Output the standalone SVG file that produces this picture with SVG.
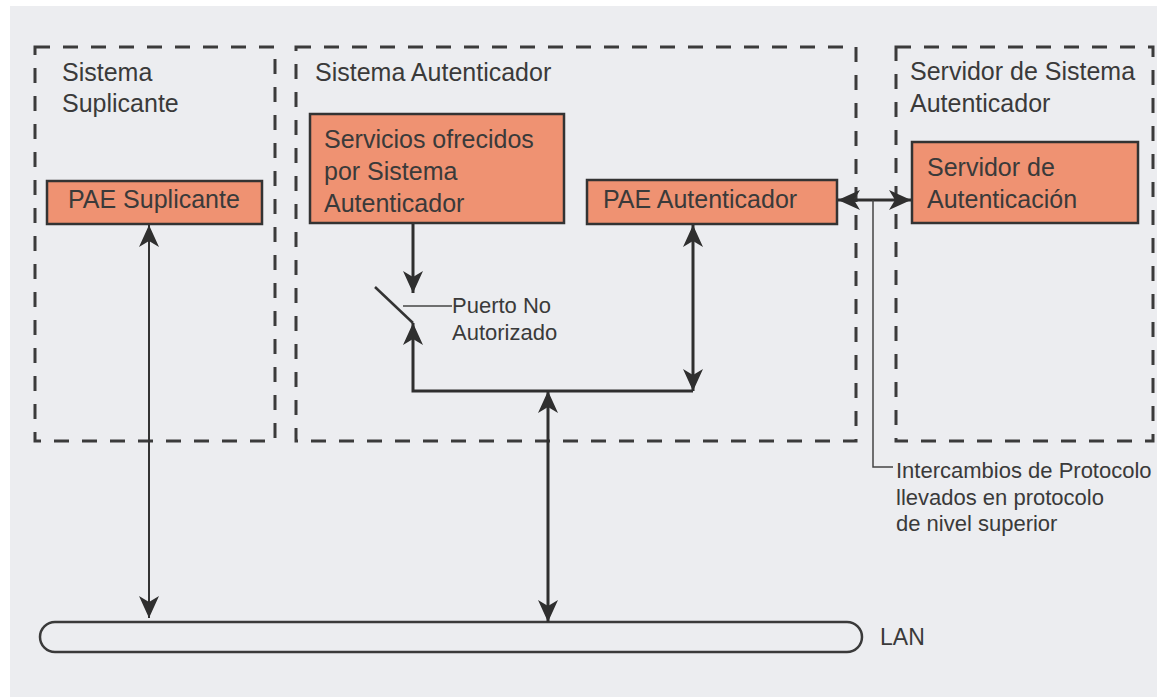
<svg xmlns="http://www.w3.org/2000/svg" width="1157" height="698" viewBox="0 0 1157 698">
<style>
.bg{fill:#ecedf0}
.sys{fill:none;stroke:#3b3b3b;stroke-width:3;stroke-dasharray:15 13}
.box{fill:#ef9272;stroke:#333;stroke-width:2.5}
.t{font-family:"Liberation Sans",Arial,sans-serif;font-size:25px;fill:#3a3a3a}
.s{font-family:"Liberation Sans",Arial,sans-serif;font-size:22px;fill:#3a3a3a}
.c{fill:none;stroke:#2f2f2f;stroke-width:3}
.cs{fill:none;stroke:#333;stroke-width:2}
.thin{fill:none;stroke:#444;stroke-width:1.5}
</style>
<defs>
<marker id="ah" viewBox="0 0 22 20" refX="22" refY="10" markerWidth="22" markerHeight="20" markerUnits="userSpaceOnUse" orient="auto-start-reverse">
<path d="M0,0 L22,10 L0,20 L6,10 z" fill="#2f2f2f"/>
</marker>
</defs>
<rect width="1157" height="698" fill="#ffffff"/>
<rect class="bg" x="10" y="6" width="1147" height="691"/>

<g id="sistema-suplicante">
<rect class="sys" x="35" y="47" width="240" height="394"/>
<text class="t" x="62" y="81">Sistema</text>
<text class="t" x="62" y="112">Suplicante</text>
</g>
<g id="sistema-autenticador">
<rect class="sys" x="296" y="47" width="560" height="394"/>
<text class="t" x="315" y="81">Sistema Autenticador</text>
</g>
<g id="servidor-sistema">
<rect class="sys" x="896" y="47" width="257" height="394"/>
<text class="t" x="910" y="80">Servidor de Sistema</text>
<text class="t" x="910" y="112">Autenticador</text>
</g>

<g id="pae-suplicante">
<rect class="box" x="47" y="181" width="215" height="43"/>
<text class="t" x="68" y="208">PAE Suplicante</text>
</g>
<g id="servicios">
<rect class="box" x="310" y="114" width="254" height="109"/>
<text class="t" x="324" y="148">Servicios ofrecidos</text>
<text class="t" x="324" y="180">por Sistema</text>
<text class="t" x="324" y="212">Autenticador</text>
</g>
<g id="pae-autenticador">
<rect class="box" x="587" y="180" width="250" height="44"/>
<text class="t" x="603" y="208">PAE Autenticador</text>
</g>
<g id="servidor-autenticacion">
<rect class="box" x="912" y="142" width="226" height="81"/>
<text class="t" x="927" y="176">Servidor de</text>
<text class="t" x="927" y="208">Autenticación</text>
</g>

<g id="puerto">
<line x1="375" y1="287" x2="413" y2="323" stroke="#333" stroke-width="2.5"/>
<line class="thin" x1="403" y1="306" x2="452" y2="306"/>
<text class="s" x="452" y="313">Puerto No</text>
<text class="s" x="452" y="340">Autorizado</text>
</g>

<g id="lan">
<rect x="40" y="622" width="822" height="30" rx="15" ry="15" fill="none" stroke="#3a3a3a" stroke-width="2.5"/>
<text class="t" x="880" y="645" style="font-size:23px">LAN</text>
</g>

<g id="protocolo-label">
<text class="s" x="896" y="478">Intercambios de Protocolo</text>
<text class="s" x="896" y="505">llevados en protocolo</text>
<text class="s" x="896" y="531">de nivel superior</text>
</g>

<g id="connectors">
<line class="c" x1="413" y1="224" x2="413" y2="293" marker-end="url(#ah)"/>
<polyline class="c" points="693,391 413,391 413,323" marker-end="url(#ah)"/>
<line class="c" x1="693" y1="225" x2="693" y2="391" marker-start="url(#ah)" marker-end="url(#ah)"/>
<line class="c" x1="548" y1="391" x2="548" y2="622" marker-start="url(#ah)" marker-end="url(#ah)"/>
<line class="cs" x1="149" y1="225" x2="149" y2="618" marker-start="url(#ah)" marker-end="url(#ah)"/>
<line class="c" x1="838" y1="200" x2="911" y2="200" marker-start="url(#ah)" marker-end="url(#ah)"/>
<polyline class="thin" points="873,200 873,467 893,467"/>
</g>
</svg>
